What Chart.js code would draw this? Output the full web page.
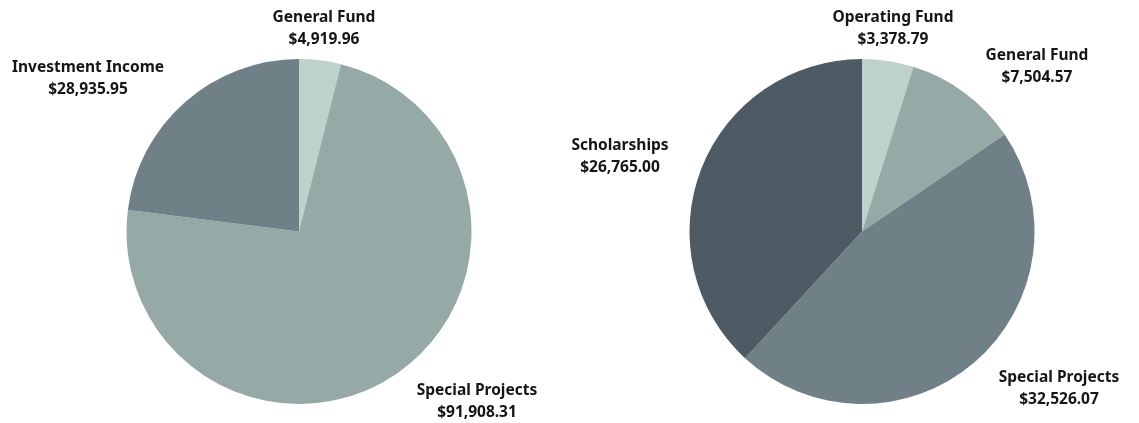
<!DOCTYPE html>
<html>
<head>
<meta charset="utf-8">
<script src="https://cdn.jsdelivr.net/npm/chart.js@4.4.9/dist/chart.umd.min.js"></script>
<style>
  html, body { margin: 0; padding: 0; background: #fff; }
  #wrap { position: relative; width: 1139px; height: 423px; overflow: hidden; }
  canvas { position: absolute; top: 0; }
  #leftPie { left: 0; }
  #rightPie { left: 550px; }
</style>
</head>
<body>
<div id="wrap">
  <canvas id="leftPie" width="550" height="423"></canvas>
  <canvas id="rightPie" width="589" height="423"></canvas>
</div>
<script>
// Left pie data
const leftLabels = ['General Fund', 'Special Projects', 'Investment Income'];
const leftValues = [4919.96, 91908.31, 28935.95];

// Right pie data
const rightLabels = ['Operating Fund', 'General Fund', 'Special Projects', 'Scholarships'];
const rightValues = [3378.79, 7504.57, 32526.07, 26765.00];

// Slice colours
const leftColors = ['#bdd2cb', '#95aaa6', '#6f8186'];
const rightColors = ['#bdd2cb', '#95aaa6', '#6f8186', '#4e5b64'];

// Label block offsets from the pie centre, same order as the data (style only)
const leftLabelOffsets = [[25, -203], [178, 170], [-211, -153]];
const rightLabelOffsets = [[31, -203], [175, -165], [197, 157], [-242, -75]];

function money(v) {
    return '$' + v.toLocaleString('en-US', { minimumFractionDigits: 2, maximumFractionDigits: 2 });
}

// Draws name + amount next to each slice
const sliceLabels = {
    id: 'sliceLabels',
    afterDraw(chart, args, opts) {
        const ctx = chart.ctx;
        const meta = chart.getDatasetMeta(0);
        const labels = chart.data.labels;
        const values = chart.data.datasets[0].data;
        ctx.save();
        ctx.fillStyle = '#151515';
        ctx.font = 'bold 15.5px "Noto Sans", sans-serif';
        ctx.textAlign = 'center';
        ctx.textBaseline = 'middle';
        meta.data.forEach(function(arc, i) {
            const off = opts.offsets[i];
            const x = arc.x + off[0];
            const y = arc.y + off[1];
            ctx.fillText(labels[i], x, y - 11);
            ctx.fillText(money(values[i]), x, y + 11);
        });
        ctx.restore();
    }
};

function makePie(id, labels, values, colors, offsets, padding) {
    const ctx = document.getElementById(id).getContext('2d');
    return new Chart(ctx, {
        type: 'pie',
        data: {
            labels: labels,
            datasets: [{
                data: values,
                backgroundColor: colors,
                borderWidth: 0
            }]
        },
        options: {
            responsive: false,
            animation: false,
            layout: { padding: padding },
            plugins: {
                legend: { display: false },
                tooltip: { enabled: false },
                sliceLabels: { offsets: offsets }
            }
        },
        plugins: [sliceLabels]
    });
}

makePie('leftPie', leftLabels, leftValues, leftColors, leftLabelOffsets,
    { left: 126.5, right: 78.5, top: 59, bottom: 19 });
makePie('rightPie', rightLabels, rightValues, rightColors, rightLabelOffsets,
    { left: 139.5, right: 104.5, top: 59, bottom: 19 });
</script>
</body>
</html>
